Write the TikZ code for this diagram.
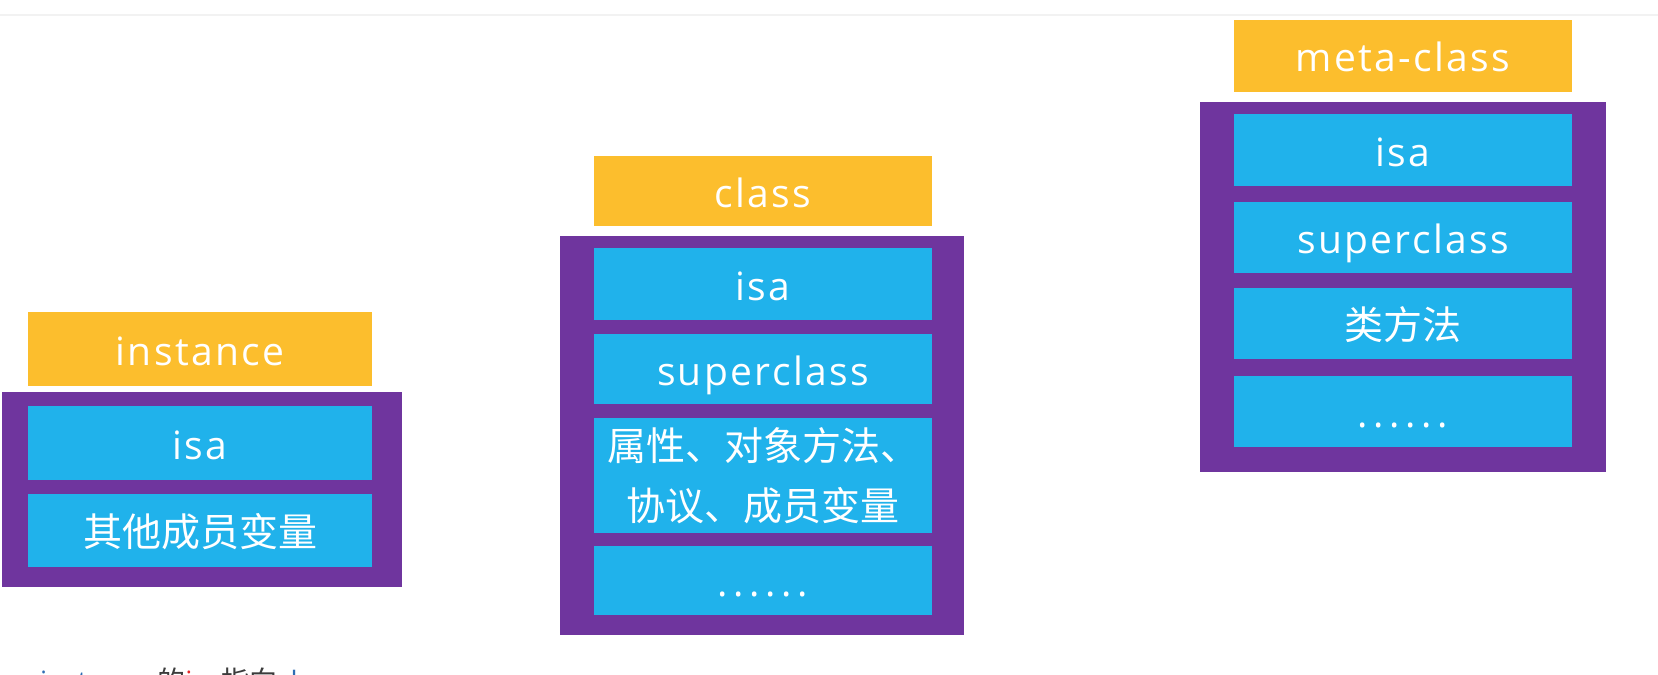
\documentclass[tikz,border=0pt]{standalone}
\usepackage{fontspec}
\setmainfont{Open Sans}[LetterSpace=6.0]
\newfontfamily\cjk{Noto Sans CJK SC}
\newfontfamily\plainsans{Open Sans}
\definecolor{hdryellow}{RGB}{252,190,45}
\definecolor{framepurple}{RGB}{111,53,158}
\definecolor{rowblue}{RGB}{32,178,235}
\definecolor{toprule}{RGB}{242,242,242}
\definecolor{noteblue}{RGB}{46,109,180}
\definecolor{notered}{RGB}{230,40,40}
\definecolor{notegray}{RGB}{60,60,60}
\newcommand\sixdots{.\kern2.8pt.\kern2.8pt.\kern2.8pt.\kern2.8pt.\kern2.8pt.}
\begin{document}
\begin{tikzpicture}[x=0.5pt,y=-0.5pt,
  every node/.style={inner sep=0pt, outer sep=0pt, draw=none},
  txt/.style={text=white, font=\fontsize{19.5}{23}\selectfont, text height=17pt, text depth=1pt},
  header/.style={txt, fill=hdryellow, minimum width=#1},
  header/.default=169pt,
  frame/.style={fill=framepurple},
  row/.style={txt, fill=rowblue, minimum width=#1},
  row/.default=169pt,
  cjkrow/.style={text=white, fill=rowblue, minimum width=169pt, font=\cjk\fontsize{19.5}{30}\selectfont, align=center}
]
\useasboundingbox (0,0) rectangle (1658,674);
\clip (0,0) rectangle (1658,674);
\fill[white] (0,0) rectangle (1658,674);
\draw[toprule, line width=1pt] (0,15) -- (1658,15);

% instance
\node[header=172pt, minimum height=37pt] (insthdr) at (200,349) {instance};
\node[frame, minimum width=200pt, minimum height=97.5pt] (instframe) at (202,489.5) {};
\node[row=172pt, minimum height=37pt] (instisa) at (200,443) {isa};
\node[row=172pt, minimum height=36.5pt, font=\cjk\fontsize{19.5}{23}\selectfont] (instvars) at (200,530.5) {其他成员变量};

% class
\node[header, minimum height=35pt] (clshdr) at (763,191) {class};
\node[frame, minimum width=202pt, minimum height=199.5pt] (clsframe) at (762,435.5) {};
\node[row, minimum height=36pt] (clsisa) at (763,284) {isa};
\node[row, minimum height=35pt] (clssuper) at (763,369) {superclass};
\node[cjkrow, minimum height=57.5pt] (clsmembers) at (763,475.5) {属性、对象方法、\\协议、成员变量};
\node[row, minimum height=34.5pt] (clsmore) at (763,580.5) {\sixdots};

% meta-class
\node[header, minimum height=36pt] (metahdr) at (1403,56) {meta-class};
\node[frame, minimum width=203pt, minimum height=185pt] (metaframe) at (1403,287) {};
\node[row, minimum height=36pt] (metaisa) at (1403,150) {isa};
\node[row, minimum height=35.5pt] (metasuper) at (1403,237.5) {superclass};
\node[row, minimum height=35.5pt, font=\cjk\fontsize{19.5}{23}\selectfont] (metamethods) at (1403,323.5) {类方法};
\node[row, minimum height=35.5pt] (metamore) at (1403,411.5) {\sixdots};

% caption line, cut off by the page edge as in the reference
\node[anchor=base west, font=\fontsize{14}{17}\selectfont, text=notegray] (note) at (40,691)
  {\textcolor{noteblue}{\plainsans instance}\hspace{4pt}{\cjk 的}\textcolor{notered}{\plainsans isa}{\cjk 指向}\textcolor{noteblue}{\plainsans class}};
\end{tikzpicture}
\end{document}
